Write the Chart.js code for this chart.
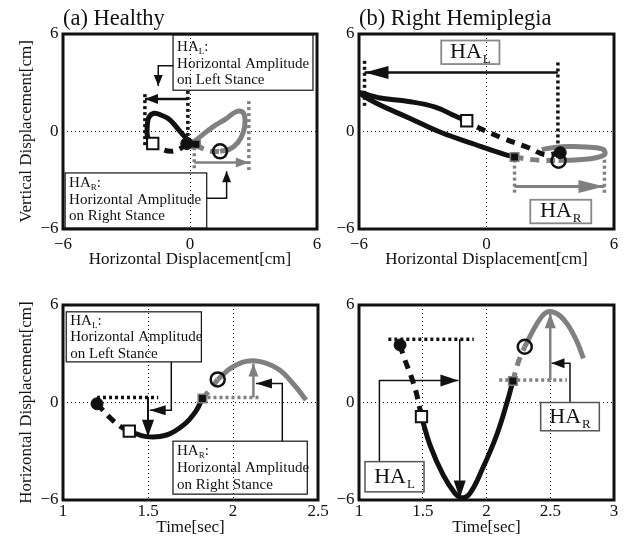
<!DOCTYPE html>
<html>
<head>
<meta charset="utf-8">
<script src="https://cdn.jsdelivr.net/npm/chart.js@4.4.1/dist/chart.umd.min.js"></script>
<style>
  body { margin: 0; background: #fff; }
  #wrap { position: relative; width: 626px; height: 540px; }
  #wrap canvas { position: absolute; left: 0; top: 0; }
</style>
</head>
<body>
<div id="wrap">
  <canvas id="chartA" width="626" height="540"></canvas>
  <canvas id="chartB" width="626" height="540"></canvas>
  <canvas id="chartC" width="626" height="540"></canvas>
  <canvas id="chartD" width="626" height="540"></canvas>
</div>
<script>
// ---- (a) Healthy: vertical vs horizontal displacement [cm]
const aBlackDashX = [-0.15, -0.45, -0.85, -1.3, -1.76];
const aBlackDashY = [-0.74, -1.05, -1.22, -1.1, -0.74];
const aBlackSolidX = [-1.76, -2.0, -2.02, -1.95, -1.7, -1.35, -0.95, -0.5, -0.15, 0.1, 0.28];
const aBlackSolidY = [-0.74, -0.35, 0.3, 0.85, 1.12, 1.0, 0.72, 0.05, -0.45, -0.68, -0.78];
const aGrayDashX = [0.28, 0.6, 1.0, 1.42];
const aGrayDashY = [-0.78, -1.05, -1.22, -1.22];
const aGraySolidX = [1.42, 1.85, 2.25, 2.52, 2.6, 2.48, 2.15, 1.7, 1.1, 0.5, 0.22];
const aGraySolidY = [-1.22, -1.1, -0.7, -0.05, 0.7, 1.2, 1.2, 0.78, 0.3, -0.3, -0.6];
// markers: filled circle, open square, filled square, open circle
const aMarkX = [-0.15, -1.76, 0.28, 1.42];
const aMarkY = [-0.74, -0.74, -0.78, -1.22];
// HA_L (black) and HA_R (gray) limits
const aHalLimits = [-2.13, -0.1];
const aHalLimTop = [2.3, 2.5];
const aHalLimBot = [-1.0, -0.8];
const aHalLevel = 2.0;
const aHarLimits = [0.2, 2.78];
const aHarLimTop = [-0.6, 1.87];
const aHarLimBot = [-2.35, -2.45];
const aHarLevel = -1.9;

// ---- (b) Right Hemiplegia
const bBlackDashX = [3.47, 2.76, 1.98, 0.72, -0.53, -0.93];
const bBlackDashY = [-1.3, -1.42, -1.0, -0.39, 0.33, 0.66];
const bBlackSolidX = [-0.93, -1.47, -2.41, -3.67, -5.08, -5.98, -5.2, -3.67, -2.1, -0.53, 0.88, 1.32];
const bBlackSolidY = [0.66, 0.95, 1.5, 1.85, 2.08, 2.38, 1.75, 0.85, -0.08, -0.8, -1.42, -1.57];
const bGrayDashX = [1.32, 2.13, 2.8, 3.39];
const bGrayDashY = [-1.57, -1.73, -1.78, -1.78];
const bGraySolidX = [3.39, 4.17, 4.9, 5.35, 5.58, 5.43, 4.65, 3.9, 3.2, 2.6];
const bGraySolidY = [-1.78, -1.75, -1.68, -1.55, -1.35, -1.07, -0.95, -0.93, -0.98, -1.1];
const bMarkX = [3.47, -0.93, 1.32, 3.39];
const bMarkY = [-1.3, 0.66, -1.57, -1.8];
const bHalLimits = [-5.74, 3.36];
const bHalLimTop = [4.35, 4.25];
const bHalLimBot = [1.47, -1.53];
const bHalLevel = 3.63;
const bHarLimits = [1.32, 5.55];
const bHarLimTop = [-1.73, -1.0];
const bHarLimBot = [-3.9, -3.79];
const bHarLevel = -3.38;

// ---- (c) Healthy: horizontal displacement vs time [sec]
const cBlackDashX = [1.2, 1.28, 1.34, 1.39];
const cBlackDashY = [-0.08, -0.97, -1.49, -1.76];
const cBlackSolidX = [1.39, 1.49, 1.61, 1.71, 1.78, 1.82];
const cBlackSolidY = [-1.76, -2.1, -2.0, -1.38, -0.56, 0.25];
const cGrayDashX = [1.82, 1.87, 1.91];
const cGrayDashY = [0.25, 0.85, 1.42];
const cGraySolidX = [1.91, 2.0, 2.12, 2.26, 2.36, 2.43];
const cGraySolidY = [1.42, 2.2, 2.57, 2.1, 1.08, 0.15];
const cMarkX = [1.2, 1.39, 1.82, 1.91];
const cMarkY = [-0.08, -1.76, 0.25, 1.42];
const cHalSpan = [1.2, 1.56];
const cHalLevel = 0.31;
const cHalTime = 1.5;
const cHalMin = -2.1;
const cHarSpan = [1.85, 2.15];
const cHarLevel = 0.31;
const cHarTime = 2.12;
const cHarMax = 2.4;

// ---- (d) Right Hemiplegia: horizontal displacement vs time [sec]
const dBlackDashX = [1.322, 1.36, 1.41, 1.45, 1.49];
const dBlackDashY = [3.54, 2.62, 1.59, 0.57, -0.87];
const dBlackSolidX = [1.49, 1.557, 1.66, 1.753, 1.806, 1.87, 1.97, 2.08, 2.17, 2.207];
const dBlackSolidY = [-0.87, -2.62, -4.46, -5.59, -5.86, -5.59, -4.05, -2.0, 0.25, 1.32];
const dGrayDashX = [2.207, 2.25, 2.3];
const dGrayDashY = [1.32, 2.5, 3.43];
const dGraySolidX = [2.3, 2.39, 2.47, 2.55, 2.63, 2.71, 2.76];
const dGraySolidY = [3.43, 4.77, 5.55, 5.48, 4.87, 3.74, 2.71];
const dMarkX = [1.322, 1.49, 2.207, 2.3];
const dMarkY = [3.54, -0.87, 1.32, 3.43];
const dHalSpan = [1.23, 1.9];
const dHalLevel = 3.89;
const dHalTime = 1.79;
const dHalMin = -5.9;
const dHarSpan = [2.1, 2.63];
const dHarLevel = 1.38;
const dHarTime = 2.5;
const dHarMax = 5.5;

const BLACK = '#111';
const GRAY = '#808080';
const SERIF = "'Liberation Serif', 'Times New Roman', serif";
Chart.defaults.font.family = SERIF;
Chart.defaults.color = BLACK;

const fmt = v => (v < 0 ? '\u2212' + Math.abs(v) : String(v));
const pts = (xs, ys) => xs.map((x, i) => ({ x, y: ys[i] }));

function curve(xs, ys, color, dashed) {
    return {
        data: pts(xs, ys), showLine: true, borderColor: color, borderWidth: 5,
        borderDash: dashed ? [9, 7] : [], borderCapStyle: 'butt',
        tension: 0.4, pointRadius: 0, order: 1
    };
}

function dotted(xs, ys, color) {
    return {
        data: pts(xs, ys), showLine: true, borderColor: color, borderWidth: 3.5,
        borderDash: [3, 3], borderCapStyle: 'butt', tension: 0, pointRadius: 0, order: 2
    };
}

function arrow(xs, ys, color, width, len, half) {
    return {
        data: pts(xs, ys), showLine: true, borderColor: color, borderWidth: width,
        tension: 0, pointRadius: 0, order: 2, head: { len, half }
    };
}

// 0 filled circle, 1 open square, 2 filled square, 3 open circle
function markers(xs, ys) {
    const styles = [
        { pointStyle: 'circle', pointRadius: 6, pointBackgroundColor: BLACK, pointBorderColor: BLACK, pointBorderWidth: 1 },
        { pointStyle: 'rect', pointRadius: 8, pointBackgroundColor: '#fff', pointBorderColor: BLACK, pointBorderWidth: 2 },
        { pointStyle: 'rect', pointRadius: 6, pointBackgroundColor: BLACK, pointBorderColor: GRAY, pointBorderWidth: 1.5 },
        { pointStyle: 'circle', pointRadius: 7, pointBackgroundColor: 'rgba(255,255,255,0)', pointBorderColor: BLACK, pointBorderWidth: 2.5 }
    ];
    return xs.map((x, i) => Object.assign({ data: [{ x, y: ys[i] }], showLine: false, order: 0 }, styles[i]));
}

const decor = {
    id: 'decor',
    afterDatasetsDraw(chart, args, opts) {
        const { ctx } = chart;
        const sx = chart.scales.x, sy = chart.scales.y;
        ctx.save();
        chart.data.datasets.forEach(ds => {
            if (!ds.head) return;
            const n = ds.data.length;
            const x1 = sx.getPixelForValue(ds.data[n - 2].x), y1 = sy.getPixelForValue(ds.data[n - 2].y);
            const x2 = sx.getPixelForValue(ds.data[n - 1].x), y2 = sy.getPixelForValue(ds.data[n - 1].y);
            const a = Math.atan2(y2 - y1, x2 - x1);
            const c = Math.cos(a), s = Math.sin(a);
            const { len, half } = ds.head;
            ctx.fillStyle = ds.borderColor;
            ctx.beginPath();
            ctx.moveTo(x2, y2);
            ctx.lineTo(x2 - len * c + half * s, y2 - len * s - half * c);
            ctx.lineTo(x2 - len * c - half * s, y2 - len * s + half * c);
            ctx.closePath();
            ctx.fill();
        });
        (opts.boxes || []).forEach(b => {
            const l = sx.getPixelForValue(b.x1), r = sx.getPixelForValue(b.x2);
            const t = sy.getPixelForValue(b.y1), bt = sy.getPixelForValue(b.y2);
            ctx.strokeStyle = b.color;
            ctx.lineWidth = b.lw;
            ctx.strokeRect(l, t, r - l, bt - t);
            ctx.fillStyle = BLACK;
            ctx.textBaseline = 'alphabetic';
            ctx.textAlign = 'left';
            if (b.big) {
                ctx.font = '22px ' + SERIF;
                const wHA = ctx.measureText('HA').width;
                ctx.font = '13px ' + SERIF;
                const wSub = ctx.measureText(b.sub).width;
                const tx = l + (r - l - wHA - wSub - 1) / 2;
                const base = t + b.base;
                ctx.font = '22px ' + SERIF;
                ctx.fillText('HA', tx, base);
                ctx.font = '13px ' + SERIF;
                ctx.fillText(b.sub, tx + wHA + 1, base + 5);
            } else {
                b.lines.forEach((ln, i) => {
                    const base = t + b.base + i * b.gap;
                    const tx = l + 4;
                    if (Array.isArray(ln)) {
                        ctx.font = '15px ' + SERIF;
                        const wHA = ctx.measureText(ln[0]).width;
                        ctx.fillText(ln[0], tx, base);
                        ctx.font = '9px ' + SERIF;
                        const wSub = ctx.measureText(ln[1]).width;
                        ctx.fillText(ln[1], tx + wHA, base + 3);
                        ctx.font = '15px ' + SERIF;
                        ctx.fillText(ln[2], tx + wHA + wSub, base);
                    } else {
                        ctx.font = '15px ' + SERIF;
                        ctx.fillText(ln, tx, base);
                    }
                });
            }
        });
        ctx.restore();
    },
    afterDraw(chart) {
        const { ctx, chartArea: ca } = chart;
        ctx.save();
        ctx.strokeStyle = BLACK;
        ctx.lineWidth = 3;
        ctx.strokeRect(ca.left, ca.top, ca.right - ca.left, ca.bottom - ca.top);
        ctx.restore();
    }
};

function scaleX(min, max, step, title, fitH, tickPad, titlePad) {
    return {
        type: 'linear', min, max,
        ticks: { stepSize: step, padding: tickPad, font: { size: 17 }, color: BLACK, callback: fmt, maxRotation: 0, autoSkip: false },
        grid: { color: BLACK, lineWidth: 1, drawTicks: false },
        border: { display: false, dash: [1, 3] },
        title: { display: true, text: title, font: { size: 17 }, color: BLACK, padding: { top: 0, bottom: titlePad } },
        afterFit: s => { s.height = fitH; }
    };
}

function scaleY(title) {
    return {
        type: 'linear', min: -6, max: 6,
        ticks: { stepSize: 6, padding: 4.5, font: { size: 17 }, color: BLACK, callback: fmt },
        grid: { color: BLACK, lineWidth: 1, drawTicks: false },
        border: { display: false, dash: [1, 3] },
        title: title ? { display: true, text: title, font: { size: 17 }, color: BLACK, padding: { top: 16, bottom: 0 } } : { display: false },
        afterFit: s => { s.width = 63; }
    };
}

function panelTitle(text) {
    return {
        display: true, text, align: 'start', fullSize: false, color: BLACK,
        font: { size: 22.5, weight: 'normal', family: SERIF }, padding: { top: 6, bottom: 1 }
    };
}

function makeChart(id, cfg) {
    return new Chart(document.getElementById(id), {
        type: 'scatter',
        data: { datasets: cfg.datasets },
        options: {
            responsive: false,
            animation: false,
            devicePixelRatio: 1,
            layout: { padding: cfg.padding },
            plugins: {
                legend: { display: false },
                tooltip: { enabled: false },
                title: cfg.title || { display: false },
                decor: { boxes: cfg.boxes }
            },
            scales: { x: cfg.x, y: cfg.y }
        },
        plugins: [decor]
    });
}

function stanceMarks(lim, top, bot, level, color, lineW, len, half, reverse) {
    const from = reverse ? lim[1] : lim[0];
    const to = reverse ? lim[0] : lim[1];
    return [
        dotted([lim[0], lim[0]], [top[0], bot[0]], color),
        dotted([lim[1], lim[1]], [top[1], bot[1]], color),
        arrow([from, to], [level, level], color, lineW, len, half)
    ];
}

// (a)
makeChart('chartA', {
    padding: { left: 0, top: 0, right: 309, bottom: 266 },
    title: panelTitle('(a) Healthy'),
    x: scaleX(-6, 6, 6, 'Horizontal Displacement[cm]', 45, 5, 4),
    y: scaleY('Vertical Displacement[cm]'),
    datasets: [
        ...markers(aMarkX, aMarkY),
        curve(aBlackDashX, aBlackDashY, BLACK, true),
        curve(aBlackSolidX, aBlackSolidY, BLACK, false),
        curve(aGrayDashX, aGrayDashY, GRAY, true),
        curve(aGraySolidX, aGraySolidY, GRAY, false),
        ...stanceMarks(aHalLimits, aHalLimTop, aHalLimBot, aHalLevel, BLACK, 2.5, 13, 5, true),
        ...stanceMarks(aHarLimits, aHarLimTop, aHarLimBot, aHarLevel, GRAY, 2.5, 13, 5, false),
        arrow([-0.8, -1.5, -1.5], [4.04, 4.04, 2.8], BLACK, 1.5, 11, 4.5),
        arrow([0.79, 1.73, 1.73], [-4.1, -4.1, -2.45], BLACK, 1.5, 11, 4.5)
    ],
    boxes: [
        { x1: -0.8, x2: 5.81, y1: 5.95, y2: 2.54, color: BLACK, lw: 1.2, base: 16, gap: 16.7,
          lines: [['HA', 'L', ':'], 'Horizontal Amplitude', 'on Left Stance'] },
        { x1: -5.9, x2: 0.79, y1: -2.55, y2: -5.95, color: BLACK, lw: 1.2, base: 14, gap: 16.7,
          lines: [['HA', 'R', ':'], 'Horizontal Amplitude', 'on Right Stance'] }
    ]
});

// (b)
makeChart('chartB', {
    padding: { left: 296, top: 0, right: 12, bottom: 266 },
    title: panelTitle('(b) Right Hemiplegia'),
    x: scaleX(-6, 6, 6, 'Horizontal Displacement[cm]', 45, 5, 4),
    y: scaleY(null),
    datasets: [
        ...markers(bMarkX, bMarkY),
        curve(bBlackDashX, bBlackDashY, BLACK, true),
        curve(bBlackSolidX, bBlackSolidY, BLACK, false),
        curve(bGrayDashX, bGrayDashY, GRAY, true),
        curve(bGraySolidX, bGraySolidY, GRAY, false),
        ...stanceMarks(bHalLimits, bHalLimTop, bHalLimBot, bHalLevel, BLACK, 2.5, 24, 6.5, true),
        ...stanceMarks(bHarLimits, bHarLimTop, bHarLimBot, bHarLevel, GRAY, 3, 26, 6.5, false)
    ],
    boxes: [
        { x1: -2.13, x2: 0.61, y1: 5.6, y2: 4.15, color: '#888', lw: 1.8, big: true, sub: 'L', base: 17 },
        { x1: 2.06, x2: 4.93, y1: -4.2, y2: -5.65, color: '#888', lw: 1.8, big: true, sub: 'R', base: 17 }
    ]
});

// (c)
makeChart('chartC', {
    padding: { left: 0, top: 305, right: 308, bottom: 0 },
    x: scaleX(1, 2.5, 0.5, 'Time[sec]', 40, 1, 1.8),
    y: scaleY('Horizontal Displacement[cm]'),
    datasets: [
        ...markers(cMarkX, cMarkY),
        curve(cBlackDashX, cBlackDashY, BLACK, true),
        curve(cBlackSolidX, cBlackSolidY, BLACK, false),
        curve(cGrayDashX, cGrayDashY, GRAY, true),
        curve(cGraySolidX, cGraySolidY, GRAY, false),
        dotted(cHalSpan, [cHalLevel, cHalLevel], BLACK),
        arrow([cHalTime, cHalTime], [cHalLevel, cHalMin], BLACK, 2, 17, 6),
        dotted(cHarSpan, [cHarLevel, cHarLevel], GRAY),
        arrow([cHarTime, cHarTime], [cHarLevel, cHarMax], GRAY, 2.5, 13, 5),
        arrow([1.637, 1.637, 1.51], [2.5, -0.47, -0.47], BLACK, 1.5, 16, 5),
        arrow([2.29, 2.29, 2.135], [-2.38, 1.17, 1.17], BLACK, 1.5, 16, 5)
    ],
    boxes: [
        { x1: 1.019, x2: 1.814, y1: 5.58, y2: 2.5, color: BLACK, lw: 1.2, base: 13, gap: 16.5,
          lines: [['HA', 'L', ':'], 'Horizontal Amplitude', 'on Left Stance'] },
        { x1: 1.647, x2: 2.437, y1: -2.38, y2: -5.64, color: BLACK, lw: 1.2, base: 13.5, gap: 17,
          lines: [['HA', 'R', ':'], 'Horizontal Amplitude', 'on Right Stance'] }
    ]
});

// (d)
makeChart('chartD', {
    padding: { left: 296, top: 305, right: 12, bottom: 0 },
    x: scaleX(1, 3, 0.5, 'Time[sec]', 40, 1, 1.8),
    y: scaleY(null),
    datasets: [
        ...markers(dMarkX, dMarkY),
        curve(dBlackDashX, dBlackDashY, BLACK, true),
        curve(dBlackSolidX, dBlackSolidY, BLACK, false),
        curve(dGrayDashX, dGrayDashY, GRAY, true),
        curve(dGraySolidX, dGraySolidY, GRAY, false),
        dotted(dHalSpan, [dHalLevel, dHalLevel], BLACK),
        arrow([dHalTime, dHalTime], [dHalLevel, dHalMin], BLACK, 1.5, 18, 6),
        dotted(dHarSpan, [dHarLevel, dHarLevel], GRAY),
        arrow([dHarTime, dHarTime], [dHarLevel, dHarMax], GRAY, 2.5, 15, 5.5),
        arrow([1.16, 1.16, 1.78], [-3.64, 1.35, 1.35], BLACK, 1.5, 18, 6),
        arrow([2.655, 2.655, 2.51], [0, 2.41, 2.41], BLACK, 1.5, 13, 5)
    ],
    boxes: [
        { x1: 1.047, x2: 1.51, y1: -3.64, y2: -5.5, color: '#555', lw: 1.5, big: true, sub: 'L', base: 21 },
        { x1: 2.425, x2: 2.885, y1: 0, y2: -1.74, color: '#555', lw: 1.5, big: true, sub: 'R', base: 20 }
    ]
});
</script>
</body>
</html>
